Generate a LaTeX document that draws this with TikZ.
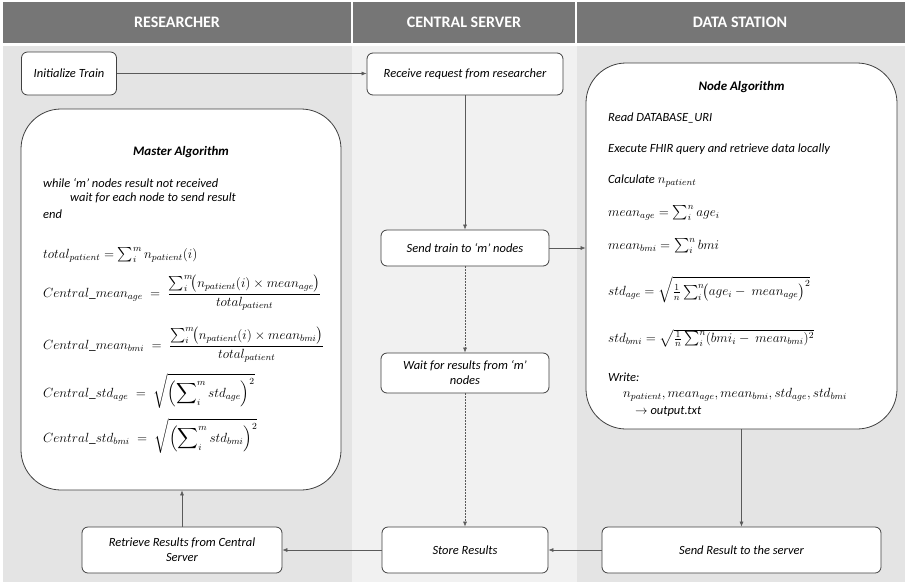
\RequirePackage{fix-cm}
\documentclass[tikz,border=0pt]{standalone}
\usepackage{amsmath}
\usepackage[no-math]{fontspec}
\setmainfont{Carlito}
\usetikzlibrary{arrows.meta}
\definecolor{hdr}{HTML}{767676}
\definecolor{laneA}{HTML}{E4E4E4}
\definecolor{laneB}{HTML}{F1F1F1}
\definecolor{edgec}{HTML}{404040}
\definecolor{conn}{HTML}{5A5A5A}
\newcommand{\mfs}{\fontsize{13.3}{16}\selectfont}
\begin{document}
\begin{tikzpicture}[x=1pt,y=-1pt,
  box/.style={draw=edgec, line width=0.8pt, fill=white, rounded corners=6pt,
    font=\fontsize{12.5}{15}\selectfont\itshape, align=center, inner sep=0pt},
  bigbox/.style={draw=edgec, line width=0.8pt, fill=white, rounded corners=40pt, inner sep=0pt},
  txt/.style={anchor=west, inner sep=0pt, font=\fontsize{12.5}{15}\selectfont\itshape},
  mtxt/.style={anchor=west, inner sep=0pt, font=\mfs},
  ttl/.style={inner sep=0pt, font=\fontsize{13}{15}\selectfont\bfseries\itshape},
  hdrtxt/.style={inner sep=0pt, text=white, font=\fontsize{16}{18}\selectfont\bfseries},
  arr/.style={draw=conn, line width=0.6pt, -{Latex[length=5pt,width=4pt]}},
  dotarr/.style={arr, dash pattern=on 1.5pt off 1.5pt}]
\useasboundingbox (0,0) rectangle (905,582);
\fill[white] (0,0) rectangle (905,582);
% header
\fill[hdr] (3,2) rectangle (905,43);
\draw[white, line width=1.2pt] (352,2) -- (352,43) (576,2) -- (576,43);
% lanes
\fill[laneA] (3,46) rectangle (352,582);
\fill[laneB] (352,46) rectangle (577,582);
\fill[laneA] (577,46) rectangle (905,582);
\node[hdrtxt] (h1) at (177,22) {RESEARCHER};
\node[hdrtxt] (h2) at (464,22) {CENTRAL SERVER};
\node[hdrtxt] (h3) at (740,22) {DATA STATION};

% big boxes
\node[bigbox, minimum width=320pt, minimum height=381pt] (master) at (181,299.5) {};
\node[bigbox, minimum width=311pt, minimum height=366pt] (nodealg) at (741.5,246) {};

% small boxes
\node[box, minimum width=95pt, minimum height=43pt] (init) at (69,73.5) {Initialize Train};
\node[box, minimum width=196pt, minimum height=42pt] (recv) at (465,74) {Receive request from researcher};
\node[box, minimum width=168pt, minimum height=36pt] (send) at (465,248) {Send train to ‘m’ nodes};
\node[box, minimum width=168pt, minimum height=40pt] (wait) at (465,373) {Wait for results from ‘m’\\nodes};
\node[box, minimum width=166pt, minimum height=46pt] (store) at (465,550) {Store Results};
\node[box, minimum width=200pt, minimum height=46pt] (retr) at (182,550) {Retrieve Results from Central\\Server};
\node[box, minimum width=279pt, minimum height=46pt] (sres) at (741.5,550) {Send Result to the server};

% master algorithm text
\node[ttl] (mt) at (181,152) {Master Algorithm};
\node[txt] (m1) at (43,183) {while ‘m’ nodes result not received};
\node[txt] (m2) at (70,198) {wait for each node to send result};
\node[txt] (m3) at (43,214) {end};
\node[mtxt] (m4) at (43,255) {$total_{patient} = \sum_i^m n_{patient}(i)$};
\node[mtxt] (m5) at (43,293) {$Central\_mean_{age} \;=\; \dfrac{\sum_i^m\!\bigl(n_{patient}(i)\times mean_{age}\bigr)}{total_{patient}}$};
\node[mtxt] (m6) at (43,345) {$Central\_mean_{bmi} \;=\; \dfrac{\sum_i^m\!\bigl(n_{patient}(i)\times mean_{bmi}\bigr)}{total_{patient}}$};
\node[mtxt] (m7) at (43,391) {$\displaystyle Central\_std_{age} \;=\; \sqrt{\left(\sum\nolimits_i^m std_{age}\right)^{2}}$};
\node[mtxt] (m8) at (43,436) {$\displaystyle Central\_std_{bmi} \;=\; \sqrt{\left(\sum\nolimits_i^m std_{bmi}\right)^{2}}$};

% node algorithm text
\node[ttl] (nt) at (741.5,87) {Node Algorithm};
\node[txt] (n1) at (608,118) {Read DATABASE\_URI};
\node[txt] (n2) at (608,149) {Execute FHIR query and retrieve data locally};
\node[txt] (n3) at (608,181) {Calculate {\mfs$n_{patient}$}};
\node[mtxt] (n4) at (608,213) {$mean_{age} = \sum_i^n age_i$};
\node[mtxt] (n5) at (608,246) {$mean_{bmi} = \sum_i^n bmi$};
\node[mtxt] (n6) at (608,290) {$std_{age} = \sqrt{\tfrac{1}{n}\sum_i^n\!\bigl(age_i -\ mean_{age}\bigr)^2}$};
\node[mtxt] (n7) at (608,338) {$std_{bmi} = \sqrt{\tfrac{1}{n}\sum_i^n(bmi_i -\ mean_{bmi})^2}$};
\node[txt] (n8) at (608,377) {Write:};
\node[mtxt] (n9) at (623,395) {$n_{patient}, mean_{age}, mean_{bmi}, std_{age}, std_{bmi}$};
\node[txt] (n10) at (635,412) {$\rightarrow$ output.txt};

% connectors
\draw[arr] (init.east) -- (init.east -| recv.west);
\draw[arr] (recv) -- (send);
\draw[arr] (send.east) -- (send.east -| nodealg.west);
\draw[dotarr] (send) -- (wait);
\draw[dotarr] (wait) -- (store);
\draw[arr] (nodealg) -- (sres);
\draw[arr] (sres) -- (store);
\draw[arr] (store) -- (retr);
\draw[arr] (retr.north) -- (retr.north |- master.south);
\end{tikzpicture}
\end{document}
